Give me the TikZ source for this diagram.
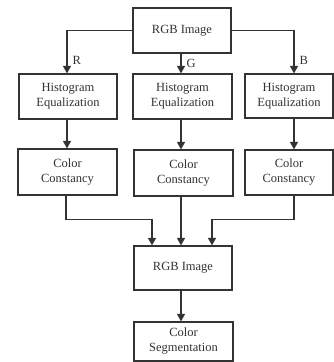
\documentclass[tikz,border=0pt]{standalone}
\usepackage{fontspec}
\setmainfont{Liberation Serif}
\usetikzlibrary{arrows.meta}

\begin{document}
\begin{tikzpicture}
[every node/.style={inner sep=0pt},
 box/.style={rectangle, draw=black!80, line width=1.2pt, fill=white, align=center, text=black!80, font=\fontsize{12.5}{15}\selectfont},
 flow/.style={line width=1.2pt, draw=black!80, -{Triangle[width=8pt,length=7.5pt]}}]
\useasboundingbox (0pt,0pt) rectangle (334pt,-362pt);
\node (1) [box, minimum width=98pt, minimum height=45pt] at (182pt, -30.5pt) {RGB Image};
\node (2) [box, minimum width=98pt, minimum height=45pt] at (68pt, -96.5pt) {Histogram\\Equalization};
\node (3) [box, minimum width=99pt, minimum height=45pt] at (182.5pt, -96.5pt) {Histogram\\Equalization};
\node (4) [box, minimum width=88pt, minimum height=44pt] at (289pt, -96pt) {Histogram\\Equalization};
\node (5) [box, minimum width=99pt, minimum height=46pt] at (67.5pt, -172pt) {Color\\Constancy};
\node (6) [box, minimum width=99pt, minimum height=46pt] at (183.5pt, -173pt) {Color\\Constancy};
\node (7) [box, minimum width=88pt, minimum height=45pt] at (289pt, -172.5pt) {Color\\Constancy};
\node (8) [box, minimum width=98pt, minimum height=44pt] at (183pt, -268pt) {RGB Image};
\node (9) [box, minimum width=99pt, minimum height=39pt] at (183.5pt, -341.5pt) {Color\\Segmentation};
% split into channels
\draw [flow] (1.west) -| node [pos=0.85, right=5pt, font=\fontsize{12.5}{14}\selectfont, text=black!80] {R} ([xshift=-1pt]2.north);
\draw [flow] ([xshift=-1pt]1.south) -- node [right=5pt, font=\fontsize{12.5}{14}\selectfont, text=black!80] {G} ([xshift=-1.5pt]3.north);
\draw [flow] (1.east) -| node [pos=0.85, right=5pt, font=\fontsize{12.5}{14}\selectfont, text=black!80] {B} ([xshift=5pt]4.north);
\draw [flow] ([xshift=-1pt]2.south) -- ([xshift=-0.5pt]5.north);
\draw [flow] ([xshift=-1.5pt]3.south) -- ([xshift=-2.5pt]6.north);
\draw [flow] ([xshift=5pt]4.south) -- ([xshift=5pt]7.north);
% merge
\draw [flow] ([xshift=-1.5pt]5.south) -- ++(0pt,-24pt) -| ([xshift=-31pt]8.north);
\draw [flow] ([xshift=-2.5pt]6.south) -- ([xshift=-2pt]8.north);
\draw [flow] ([xshift=5pt]7.south) -- ++(0pt,-24pt) -| ([xshift=29pt]8.north);
\draw [flow] ([xshift=-2pt]8.south) -- ([xshift=-2.5pt]9.north);
\end{tikzpicture}
\end{document}
